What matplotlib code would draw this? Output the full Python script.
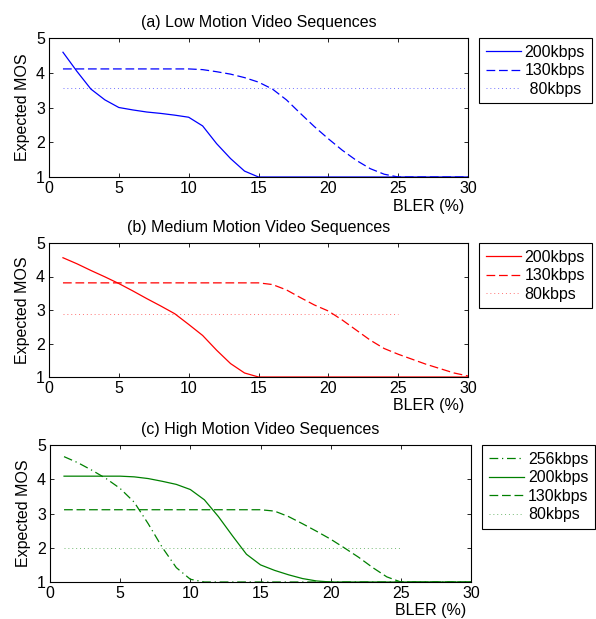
import matplotlib
matplotlib.use('Agg')
import matplotlib.pyplot as plt

plt.rcParams['font.family'] = ['Liberation Sans', 'DejaVu Sans']
plt.rcParams['font.size'] = 11.5

# BLER (%) axis values
bler = list(range(1, 31))
bler_short = list(range(1, 26))

# (a) low motion
low_200 = [4.59, 4.04, 3.53, 3.22, 3.00, 2.93, 2.87, 2.83, 2.78, 2.72,
           2.47, 1.96, 1.53, 1.17, 1.00] + [1.0] * 15
low_130 = [4.11] * 10 + [4.09, 4.03, 3.96, 3.86, 3.73, 3.53, 3.22, 2.83,
                         2.45, 2.10, 1.77, 1.48, 1.24, 1.08, 1.00] + [1.0] * 5
low_80 = [3.55] * 30

# (b) medium motion
med_200 = [4.56, 4.38, 4.18, 3.99, 3.79, 3.57, 3.34, 3.12, 2.89, 2.57,
           2.24, 1.80, 1.40, 1.12, 1.00] + [1.0] * 15
med_130 = [3.81] * 15 + [3.76, 3.60, 3.37, 3.15, 2.97, 2.70, 2.40, 2.10,
                         1.85, 1.68, 1.53, 1.38, 1.25, 1.12, 1.03]
med_80 = [2.89] * 25

# (c) high motion
high_256 = [4.66, 4.48, 4.26, 4.02, 3.73, 3.33, 2.70, 2.01, 1.42, 1.08] + [1.0] * 20
high_200 = [4.09, 4.09, 4.09, 4.09, 4.09, 4.07, 4.02, 3.94, 3.85, 3.70,
            3.40, 2.91, 2.35, 1.81, 1.50, 1.34, 1.21, 1.10, 1.03, 1.00] + [1.0] * 10
high_130 = [3.11] * 15 + [3.07, 2.91, 2.70, 2.48, 2.25, 1.99, 1.72, 1.42,
                          1.15, 1.00] + [1.0] * 5
high_80 = [1.99] * 25

titles = ['(a) Low Motion Video Sequences',
          '(b) Medium Motion Video Sequences',
          '(c) High Motion Video Sequences']

DASH = (0, (7, 3))
DOT = (0, (1, 3))
DASHDOT = (0, (7, 3, 1, 3))

W, H = 596, 619
fig = plt.figure(figsize=(W / 100, H / 100), dpi=100)

# axes boxes in pixels: left, top, right, bottom
boxes = [(49, 38, 468, 177), (49, 243, 468, 377), (50, 445, 471, 582)]
axes = []
for (l, t, r, b) in boxes:
    ax = fig.add_axes([l / W, 1 - b / H, (r - l) / W, (b - t) / H])
    axes.append(ax)

blue, red, green = '#0000ff', '#ff0000', '#008000'
dot_kw = dict(lw=0.7, linestyle=DOT, alpha=0.55)

ax = axes[0]
ax.plot(bler, low_200, color=blue, lw=0.9, label='200kbps')
ax.plot(bler, low_130, color=blue, lw=0.9, linestyle=DASH, label='130kbps')
ax.plot(bler, low_80, color=blue, label=' 80kbps', **dot_kw)

ax = axes[1]
ax.plot(bler, med_200, color=red, lw=0.9, label='200kbps')
ax.plot(bler, med_130, color=red, lw=0.9, linestyle=DASH, label='130kbps')
ax.plot(bler_short, med_80, color=red, label='80kbps', **dot_kw)

ax = axes[2]
ax.plot(bler, high_256, color=green, lw=0.9, linestyle=DASHDOT, label='256kbps')
ax.plot(bler, high_200, color=green, lw=0.9, label='200kbps')
ax.plot(bler, high_130, color=green, lw=0.9, linestyle=DASH, label='130kbps')
ax.plot(bler_short, high_80, color=green, label='80kbps', **dot_kw)

for ax, title in zip(axes, titles):
    ax.set_xlim(0, 30)
    ax.set_ylim(1, 5)
    ax.set_xticks(range(0, 31, 5))
    ax.set_yticks(range(1, 6))
    ax.tick_params(direction='in', top=True, right=True, length=3,
                   width=0.6, pad=3, labelsize=11.5)
    for s in ax.spines.values():
        s.set_linewidth(0.8)
    ax.set_title(title, fontsize=11.5, pad=8)
    ax.set_ylabel('Expected MOS', fontsize=11.5, labelpad=4)
    ax.text(0.905, -0.21, 'BLER (%)', transform=ax.transAxes,
            ha='center', va='center', fontsize=11.5)
    leg = ax.legend(loc='upper left', bbox_to_anchor=(1.026, 1.0),
                    borderaxespad=0, fancybox=False, framealpha=1,
                    edgecolor='black', handlelength=2.2, handletextpad=0.25,
                    labelspacing=0.22, borderpad=0.42, fontsize=11.5)
    leg.get_frame().set_linewidth(0.8)

fig.savefig('out.png', dpi=100)
